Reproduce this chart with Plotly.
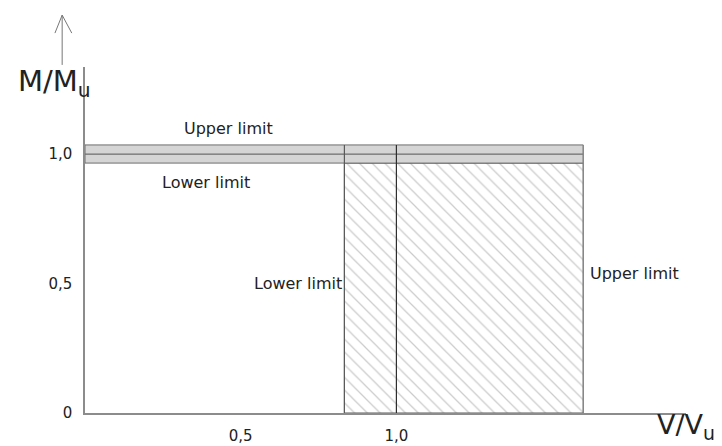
import plotly.graph_objects as go

# Interaction diagram: bending moment ratio vs. shear ratio
tick_x_vals = [0.5, 1.0]
tick_x_text = ["0,5", "1,0"]
tick_y_vals = [0.0, 0.5, 1.0]
tick_y_text = ["0", "0,5", "1,0"]

# Moment band (M/Mu) and shear limits (V/Vu)
m_lower, m_mid, m_upper = 0.965, 1.0, 1.035
v_lower, v_mid, v_upper = 0.833, 1.0, 1.6
v_start = 0.0

x_range = [0, 1.93]
y_range = [0, 1.336]

FONT = "DejaVu Sans"
TEXT = "#222222"
EDGE = "#5a5a5a"

fig = go.Figure()

# Hatched region between the lower and upper shear limits
fig.add_trace(go.Scatter(
    x=[v_lower, v_upper, v_upper, v_lower, v_lower],
    y=[0, 0, m_lower, m_lower, 0],
    mode="lines", fill="toself", fillcolor="white",
    fillpattern=dict(shape="\\", size=9, solidity=0.14,
                     fgcolor="#9a9a9a", bgcolor="white"),
    line=dict(color=EDGE, width=1), hoverinfo="skip", showlegend=False))

# Grey moment band, split at M/Mu = 1,0
for lo, hi in [(m_lower, m_mid), (m_mid, m_upper)]:
    fig.add_trace(go.Scatter(
        x=[v_start, v_upper, v_upper, v_start, v_start],
        y=[lo, lo, hi, hi, lo],
        mode="lines", fill="toself", fillcolor="#d5d5d5",
        line=dict(color="#6e6e6e", width=1),
        hoverinfo="skip", showlegend=False))

# Vertical limit lines through the band
for xv, col in [(v_lower, EDGE), (v_mid, "#2e2e2e"), (v_upper, "#8a8a8a")]:
    fig.add_trace(go.Scatter(
        x=[xv, xv], y=[0, m_upper], mode="lines",
        line=dict(color=col, width=1.2),
        hoverinfo="skip", showlegend=False))

label_font = dict(family=FONT, size=16, color=TEXT)
annotations = [
    dict(x=0.46, y=1.10, text="Upper limit", showarrow=False, font=label_font),
    dict(x=0.39, y=0.89, text="Lower limit", showarrow=False, font=label_font),
    dict(x=v_lower, y=0.50, text="Lower limit", showarrow=False,
         xanchor="right", font=label_font),
    dict(x=v_upper + 0.015, y=0.54, text="Upper limit", showarrow=False,
         xanchor="left", font=label_font),
    dict(xref="paper", yref="paper", x=-0.115, y=0.955, xanchor="left",
         yanchor="middle", text="M/M<sub>u</sub>", showarrow=False,
         font=dict(family=FONT, size=29, color=TEXT)),
    dict(xref="paper", yref="paper", x=0.948, y=-0.095, xanchor="left",
         yanchor="bottom", text="V/V<sub>u</sub>", showarrow=False,
         font=dict(family=FONT, size=27, color=TEXT)),
]

# Open arrow above the moment axis label
ax_x = -0.038
shapes = [
    dict(type="line", xref="paper", yref="paper", x0=ax_x, x1=ax_x,
         y0=1.006, y1=1.150, line=dict(color="#777777", width=1)),
    dict(type="line", xref="paper", yref="paper", x0=ax_x, x1=ax_x - 0.012,
         y0=1.150, y1=1.098, line=dict(color="#777777", width=1)),
    dict(type="line", xref="paper", yref="paper", x0=ax_x, x1=ax_x + 0.016,
         y0=1.150, y1=1.098, line=dict(color="#777777", width=1)),
]

axis_common = dict(showgrid=False, zeroline=False, showline=True,
                   linecolor="#8c8c8c", linewidth=1.5, ticks="",
                   tickfont=dict(family=FONT, size=15, color=TEXT),
                   fixedrange=True, automargin=False)

fig.update_layout(
    width=722, height=446,
    margin=dict(l=85, r=36, t=67, b=33),
    paper_bgcolor="white", plot_bgcolor="white",
    xaxis=dict(range=x_range, tickvals=tick_x_vals, ticktext=tick_x_text,
               ticklabelstandoff=8, **axis_common),
    yaxis=dict(range=y_range, tickvals=tick_y_vals, ticktext=tick_y_text,
               ticklabelstandoff=8, **axis_common),
    annotations=annotations, shapes=shapes, showlegend=False,
)

fig.write_html("out.html")
